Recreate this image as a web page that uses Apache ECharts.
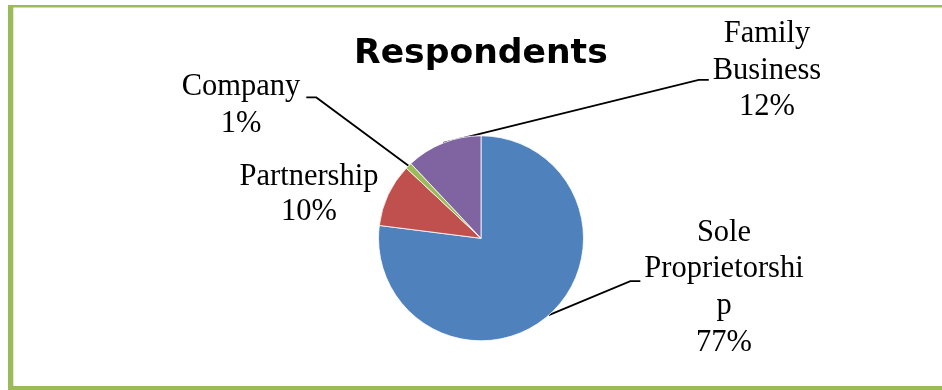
<!DOCTYPE html>
<html>
<head>
<meta charset="utf-8">
<script src="https://cdn.jsdelivr.net/npm/echarts@6/dist/echarts.min.js"></script>
<style>
html,body{margin:0;padding:0;background:#fff;}
#chart{width:942px;height:390px;}
</style>
</head>
<body>
<div id="chart"></div>
<script>
// Data
var categories = ['Sole Proprietorship', 'Partnership', 'Company', 'Family Business'];
var values = [77, 10, 1, 12];
var labelLines = [
  ['Sole', 'Proprietorshi', 'p'],
  ['Partnership'],
  ['Company'],
  ['Family', 'Business']
];
var colors = ['#4F81BD', '#C0504D', '#9BBB59', '#8064A2'];

// label anchor layout (top-center of text block) and leader-line side
var labelPos = [
  {x: 724, y: 214.5, lh: 36.6, side: 'left'},
  {x: 309, y: 159, lh: 35, side: null},
  {x: 241, y: 69, lh: 36.5, side: 'right'},
  {x: 767, y: 16, lh: 36.5, side: 'left'}
];

var chart = echarts.init(document.getElementById('chart'), null, {renderer: 'canvas'});

var data = categories.map(function (c, i) {
  return {
    name: c,
    value: values[i],
    itemStyle: {color: colors[i]},
    label: {lineHeight: labelPos[i].lh},
    labelLine: {show: labelPos[i].side !== null}
  };
});

var option = {
  animation: false,
  title: {
    text: 'Respondents',
    left: 349,
    top: 32,
    textStyle: {fontFamily: 'DejaVu Sans', fontWeight: 'bold', fontSize: 34.6, color: '#000'}
  },
  graphic: [
    {type: 'rect', shape: {x: 8, y: 5, width: 934, height: 2.5}, style: {fill: '#9BBB59'}},
    {type: 'rect', shape: {x: 8, y: 386, width: 934, height: 4}, style: {fill: '#9BBB59'}},
    {type: 'rect', shape: {x: 8, y: 5, width: 5.3, height: 385}, style: {fill: '#9BBB59'}}
  ],
  series: [{
    type: 'pie',
    center: [481, 238.3],
    radius: 102.5,
    startAngle: 90,
    clockwise: true,
    itemStyle: {borderColor: '#fff', borderWidth: 0.8},
    label: {
      show: true,
      position: 'outside',
      fontFamily: 'Liberation Serif',
      fontSize: 30.5,
      color: '#000',
      align: 'center',
      formatter: function (p) {
        return labelLines[p.dataIndex].join('\n') + '\n' + p.value + '%';
      }
    },
    labelLine: {show: true, lineStyle: {color: '#000', width: 1.8}},
    labelLayout: function (params) {
      var lp = labelPos[params.dataIndex];
      var w = params.labelRect.width;
      var res = {x: lp.x, y: lp.y, align: 'center', verticalAlign: 'top'};
      if (lp.side && params.labelLinePoints) {
        var start = params.labelLinePoints[0];
        var hy, x0, x1;
        if (lp.side === 'left') {
          var left = lp.x - w / 2;
          hy = lp.y + lp.lh * 1.75;
          if (params.dataIndex === 0) hy = lp.y + lp.lh * 1.82;
          x1 = left - 4; x0 = x1 - 10;
          res.labelLinePoints = [start, [x0, hy], [x1, hy]];
        } else {
          var right = lp.x + w / 2;
          hy = lp.y + lp.lh * 0.78;
          x1 = right + 6; x0 = x1 + 10;
          res.labelLinePoints = [start, [x0, hy], [x1, hy]];
        }
      }
      return res;
    },
    data: data
  }]
};
chart.setOption(option);
</script>
</body>
</html>
